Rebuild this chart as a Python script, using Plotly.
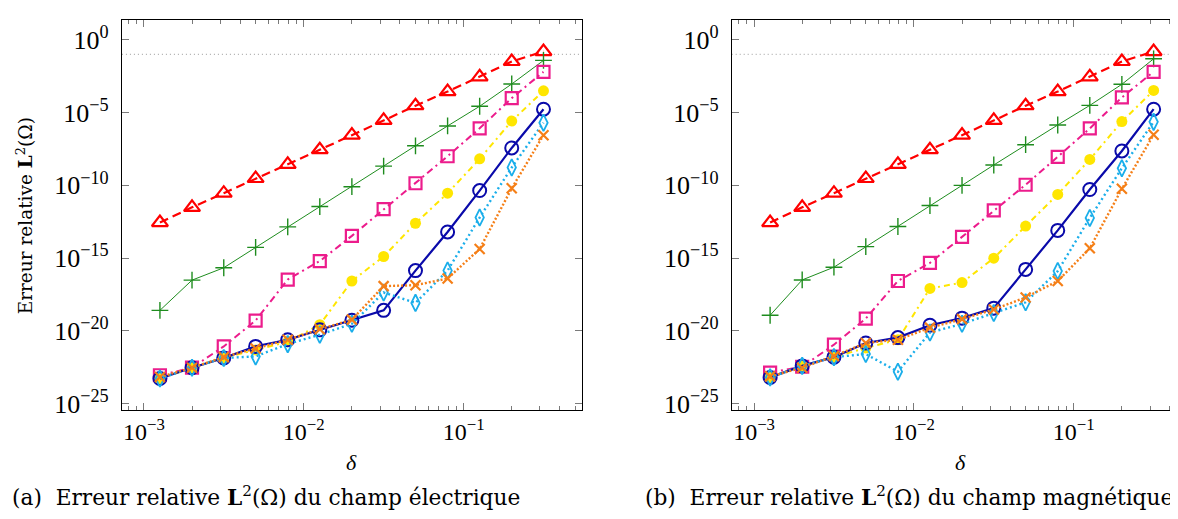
import plotly.graph_objects as go

# ---------------- data ----------------
delta = [1.26e-3, 2.0e-3, 3.16e-3, 5.0e-3, 7.94e-3, 1.26e-2, 2.0e-2,
         3.16e-2, 5.0e-2, 7.94e-2, 1.26e-1, 2.0e-1, 3.16e-1]

# (a) electric field
E_red = [2.8e-13, 3.1e-12, 2.9e-11, 2.95e-10, 2.75e-9, 2.8e-8, 2.8e-7,
         2.9e-6, 2.95e-5, 2.75e-4, 2.8e-3, 3.2e-2, 1.55e-1]
E_green = [2.6e-19, 3.1e-17, 2.2e-16, 5.5e-15, 1.4e-13, 3.5e-12, 8.1e-11,
           2.1e-9, 5.2e-8, 1.2e-6, 2.7e-5, 9.1e-4, 3.8e-2]
E_pink = [9.1e-24, 3.0e-23, 8.7e-22, 5.2e-20, 3.4e-17, 6.3e-16, 3.4e-14,
          2.3e-12, 1.4e-10, 1.0e-8, 8.3e-7, 9.8e-5, 6.2e-3]
E_yellow = [5.4e-24, 3.0e-23, 1.4e-22, 5.0e-22, 1.8e-21, 2.7e-20, 2.7e-17,
            1.3e-15, 2.5e-13, 2.9e-11, 6.6e-9, 2.6e-6, 3.1e-4]
E_blue = [5.4e-24, 3.0e-23, 1.4e-22, 8.7e-22, 2.5e-21, 1.2e-20, 5.5e-20,
          2.6e-19, 1.4e-16, 6.3e-14, 4.4e-11, 3.7e-8, 1.7e-5]
E_cyan = [5.4e-24, 3.0e-23, 1.4e-22, 1.8e-22, 1.26e-21, 5.6e-21, 3.1e-20,
          4.4e-18, 8.5e-19, 1.4e-16, 6.2e-13, 1.7e-9, 2.0e-6]
E_orange = [6.9e-24, 3.0e-23, 1.6e-22, 6.3e-22, 2.5e-21, 1.3e-20, 6.0e-20,
            1.2e-17, 1.4e-17, 4.0e-17, 4.3e-15, 6.3e-11, 2.8e-7]

# (b) magnetic field
H_red = [2.8e-13, 3.1e-12, 2.9e-11, 2.95e-10, 2.75e-9, 2.8e-8, 2.8e-7,
         2.9e-6, 2.95e-5, 2.75e-4, 2.8e-3, 3.2e-2, 1.55e-1]
H_green = [1.2e-19, 3.2e-17, 2.4e-16, 6.2e-15, 1.5e-13, 4.1e-12, 1.0e-10,
           2.5e-9, 6.2e-8, 1.4e-6, 3.1e-5, 8.7e-4, 4.9e-2]
H_pink = [1.4e-23, 3.5e-23, 1.15e-21, 7.1e-20, 2.7e-17, 4.7e-16, 2.9e-14,
          1.9e-12, 1.1e-10, 9.1e-9, 8.1e-7, 1.1e-4, 6.3e-3]
H_yellow = [6.5e-24, 4.0e-23, 1.6e-22, 6.8e-22, 2.5e-21, 8.3e-18, 2.1e-17,
            1.0e-15, 1.6e-13, 2.4e-11, 6.0e-9, 2.4e-6, 3.3e-4]
H_blue = [6.5e-24, 4.0e-23, 1.6e-22, 1.5e-21, 3.5e-21, 2.5e-20, 7.6e-20,
          3.7e-19, 1.7e-16, 8.1e-14, 5.2e-11, 2.3e-8, 1.7e-5]
H_cyan = [6.5e-24, 4.0e-23, 1.6e-22, 2.6e-22, 1.6e-23, 7.8e-21, 3.1e-20,
          1.7e-19, 9.3e-19, 1.3e-16, 5.8e-13, 1.5e-9, 2.3e-6]
H_orange = [7.6e-24, 3.0e-23, 1.9e-22, 1.5e-21, 2.5e-21, 1.7e-20, 6.5e-20,
            3.0e-19, 2.0e-18, 2.7e-17, 4.8e-15, 5.8e-11, 3.0e-7]

ref_level = 0.1

x_tickvals = [1e-3, 1e-2, 1e-1]
x_ticktext = ["10<sup>−3</sup>", "10<sup>−2</sup>", "10<sup>−1</sup>"]
y_tickvals = [1e0, 1e-5, 1e-10, 1e-15, 1e-20, 1e-25]
y_ticktext = ["10<sup>0</sup>", "10<sup>−5</sup>", "10<sup>−10</sup>",
              "10<sup>−15</sup>", "10<sup>−20</sup>", "10<sup>−25</sup>"]
x_minor = [m * 10.0 ** e for e in (-4, -3, -2, -1) for m in range(2, 10)]

caption_a = "(a)  Erreur relative <b>L</b><sup>2</sup>(Ω) du champ électrique"
caption_b = "(b)  Erreur relative <b>L</b><sup>2</sup>(Ω) du champ magnétique"
ylabel = "Erreur relative <b>L</b><sup>2</sup>(Ω)"
xlabel = "<i>δ</i>"

# ---------------- styles ----------------
styles = [
    dict(color="#FF0000", width=2.2, dash="9px,5px", symbol="triangle-up-open", size=14, mw=2.2),
    dict(color="#1E8C1E", width=1.0, dash="solid", symbol="cross-thin-open", size=12, mw=1.4),
    dict(color="#EC1C8C", width=2.0, dash="7px,4px,2px,4px", symbol="square-open", size=12, mw=2.2),
    dict(color="#FFE600", width=2.0, dash="6px,4px,2px,4px", symbol="circle", size=11, mw=0),
    dict(color="#0A0AAA", width=2.2, dash="solid", symbol="circle-open", size=13, mw=2.0),
    dict(color="#1AAEEA", width=2.4, dash="2px,3px", symbol="diamond-tall-open", size=12, mw=1.8),
    dict(color="#F57F17", width=2.4, dash="2px,2px", symbol="x-thin-open", size=10, mw=2.2),
]

FONT = "Liberation Serif"
CAP_FONT = "DejaVu Serif"

W, H = 1178, 519
xr_a = [-3.1375, -0.2625]
xr_b = [-3.14, -0.304]
yr = [-25.42, 1.37]

fig = go.Figure()

def add_panel(series, xa, ya, xr):
    # dotted reference line
    fig.add_trace(go.Scatter(
        x=[10 ** xr[0], 10 ** xr[1]], y=[ref_level, ref_level], mode="lines",
        line=dict(color="#9a9a9a", width=1, dash="1px,3px"),
        xaxis=xa, yaxis=ya, showlegend=False, hoverinfo="skip"))
    for vals, st in zip(series, styles):
        fig.add_trace(go.Scatter(
            x=delta, y=vals, mode="lines+markers",
            line=dict(color=st["color"], width=st["width"], dash=st["dash"]),
            marker=dict(symbol=st["symbol"], size=st["size"], color=st["color"],
                        line=dict(color=st["color"], width=st["mw"])),
            xaxis=xa, yaxis=ya, showlegend=False))

add_panel([E_red, E_green, E_pink, E_yellow, E_blue, E_cyan, E_orange], "x", "y", xr_a)
add_panel([H_red, H_green, H_pink, H_yellow, H_blue, H_cyan, H_orange], "x2", "y2", xr_b)

ydom = [1 - 409 / H, 1 - 12 / H]

def xaxis_cfg(dom, xr, anchor):
    return dict(type="log", range=xr, domain=dom, anchor=anchor,
                showline=True, linecolor="black", linewidth=1, mirror="ticks",
                ticks="inside", ticklen=7, tickwidth=1, tickcolor="#7a7a7a",
                tickmode="array", tickvals=x_tickvals, ticktext=x_ticktext,
                minor=dict(tickmode="array", tickvals=x_minor, ticks="inside",
                           ticklen=4, tickwidth=1, tickcolor="#7a7a7a", showgrid=False),
                showgrid=False, zeroline=False,
                tickfont=dict(family=FONT, size=24, color="black"))

def yaxis_cfg(anchor):
    return dict(type="log", range=yr, domain=ydom, anchor=anchor,
                showline=True, linecolor="black", linewidth=1, mirror="ticks",
                ticks="inside", ticklen=7, tickwidth=1, tickcolor="#7a7a7a",
                tickmode="array", tickvals=y_tickvals, ticktext=y_ticktext,
                showgrid=False, zeroline=False, ticklabelstandoff=7,
                tickfont=dict(family=FONT, size=26, color="black"))

fig.update_layout(
    width=W, height=H,
    margin=dict(l=0, r=0, t=0, b=0),
    paper_bgcolor="white", plot_bgcolor="white",
    font=dict(family=FONT, color="black", size=22),
    xaxis=xaxis_cfg([114 / W, 574 / W], xr_a, "y"),
    xaxis2=xaxis_cfg([724.3 / W, 1.0], xr_b, "y2"),
    yaxis=yaxis_cfg("x"),
    yaxis2=yaxis_cfg("x2"),
    annotations=[
        dict(text=ylabel, x=17 / W, y=1 - 211 / H, xref="paper", yref="paper",
             textangle=-90, showarrow=False, xanchor="center", yanchor="middle",
             font=dict(family=CAP_FONT, size=18.5, color="black")),
        dict(text=xlabel, x=344 / W, y=1 - 463 / H, xref="paper", yref="paper",
             showarrow=False, xanchor="center", yanchor="middle",
             font=dict(family=FONT, size=22, color="black")),
        dict(text=xlabel, x=953 / W, y=1 - 463 / H, xref="paper", yref="paper",
             showarrow=False, xanchor="center", yanchor="middle",
             font=dict(family=FONT, size=22, color="black")),
        dict(text=caption_a, x=2 / W, y=1 - 497 / H, xref="paper", yref="paper",
             showarrow=False, xanchor="left", yanchor="middle",
             font=dict(family=CAP_FONT, size=21.7, color="black")),
        dict(text=caption_b, x=636 / W, y=1 - 497 / H, xref="paper", yref="paper",
             showarrow=False, xanchor="left", yanchor="middle",
             font=dict(family=CAP_FONT, size=21.7, color="black")),
    ],
)

fig.write_html("out.html")
